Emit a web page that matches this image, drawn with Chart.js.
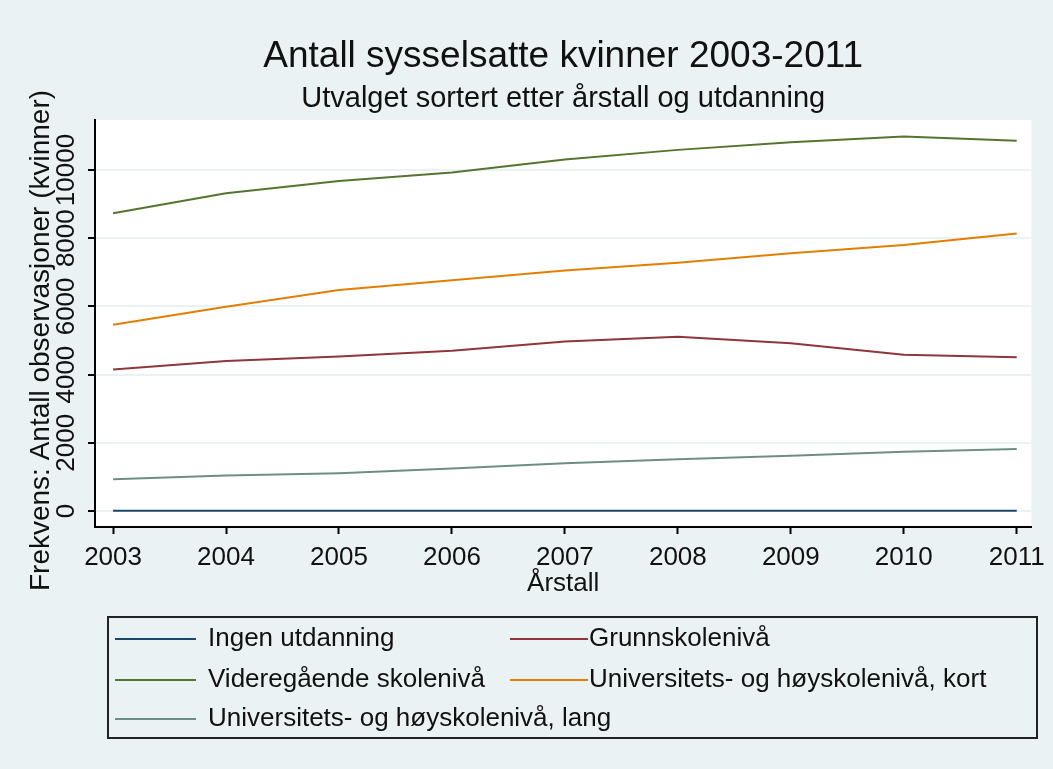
<!DOCTYPE html>
<html>
<head>
<meta charset="utf-8">
<script src="https://cdn.jsdelivr.net/npm/chart.js@4.4.0/dist/chart.umd.min.js"></script>
<style>
  html, body { margin: 0; padding: 0; background: #eaf2f3; }
  canvas { display: block; }
</style>
</head>
<body>
<canvas id="myChart" width="1053" height="769"></canvas>
<script>
// årstall og antall sysselsatte kvinner per utdanningsnivå
const years = [2003, 2004, 2005, 2006, 2007, 2008, 2009, 2010, 2011];
const ingen = [10, 10, 10, 10, 10, 10, 10, 10, 10];
const grunnskole = [4150, 4400, 4530, 4700, 4970, 5110, 4920, 4580, 4510];
const videregaende = [8730, 9320, 9680, 9930, 10310, 10590, 10810, 10980, 10860];
const uniKort = [5460, 5990, 6480, 6770, 7050, 7280, 7560, 7800, 8140];
const uniLang = [930, 1040, 1110, 1250, 1400, 1520, 1620, 1740, 1820];
const yTicks = [0, 2000, 4000, 6000, 8000, 10000];

const labels = [
  'Ingen utdanning',
  'Grunnskolenivå',
  'Videregående skolenivå',
  'Universitets- og høyskolenivå, kort',
  'Universitets- og høyskolenivå, lang'
];
const colors = ['#1a476f', '#90353b', '#55752f', '#e37e00', '#6e8e84'];
const series = [ingen, grunnskole, videregaende, uniKort, uniLang];

const FONT = 'Liberation Sans, Arial, sans-serif';
const TEXT = '#111111';

const ctx = document.getElementById('myChart').getContext('2d');

const data = {
  datasets: series.map((s, i) => ({
    label: labels[i],
    data: years.map((yr, j) => ({ x: yr, y: s[j] })),
    borderColor: colors[i],
    backgroundColor: colors[i],
    borderWidth: 2,
    pointRadius: 0,
    tension: 0,
    fill: false
  }))
};

// bakgrunn, titler, aksetitler og tegnforklaring
const stataLook = {
  id: 'stataLook',
  beforeDraw(chart) {
    const c = chart.ctx;
    const a = chart.chartArea;
    c.save();
    c.fillStyle = '#eaf2f3';
    c.fillRect(0, 0, chart.width, chart.height);
    c.fillStyle = '#ffffff';
    c.fillRect(a.left, a.top, a.right - a.left, a.bottom - a.top);
    c.restore();
  },
  afterDraw(chart) {
    const c = chart.ctx;
    const a = chart.chartArea;
    const yScale = chart.scales.y;
    const cx = (a.left + a.right) / 2;
    c.save();
    c.fillStyle = TEXT;
    c.textAlign = 'center';
    c.textBaseline = 'alphabetic';
    c.font = '37px ' + FONT;
    c.fillText('Antall sysselsatte kvinner 2003-2011', cx, 67);
    c.font = '29px ' + FONT;
    c.fillText('Utvalget sortert etter årstall og utdanning', cx, 107);

    c.font = '26px ' + FONT;
    c.fillText('Årstall', cx, 591);

    c.save();
    c.translate(41, yScale.getPixelForValue(5000));
    c.rotate(-Math.PI / 2);
    c.textBaseline = 'middle';
    c.font = '28px ' + FONT;
    c.fillText('Frekvens: Antall observasjoner (kvinner)', 0, 0);
    c.restore();

    // tegnforklaring
    c.strokeStyle = '#222222';
    c.lineWidth = 2;
    c.strokeRect(108, 617, 929, 121);
    const rows = [639, 680, 719];
    const cols = [{ x0: 115, x1: 196, tx: 208 }, { x0: 510, x1: 588, tx: 589 }];
    c.textAlign = 'left';
    c.textBaseline = 'middle';
    c.font = '26px ' + FONT;
    chart.data.datasets.forEach((ds, i) => {
      const col = cols[i % 2];
      const y = rows[Math.floor(i / 2)];
      c.strokeStyle = ds.borderColor;
      c.lineWidth = 2;
      c.beginPath();
      c.moveTo(col.x0, y);
      c.lineTo(col.x1, y);
      c.stroke();
      c.fillStyle = TEXT;
      c.fillText(ds.label, col.tx, y);
    });
    c.restore();
  }
};

const myChart = new Chart(ctx, {
  type: 'line',
  data: data,
  plugins: [stataLook],
  options: {
    responsive: false,
    animation: false,
    layout: { padding: { top: 120, left: 0, right: 20, bottom: 172 } },
    plugins: {
      legend: { display: false },
      tooltip: { enabled: false }
    },
    scales: {
      x: {
        type: 'linear',
        min: 2002.84,
        max: 2011.13,
        afterBuildTicks: (scale) => { scale.ticks = years.map(v => ({ value: v })); },
        afterFit: (scale) => { scale.height = 70; },
        ticks: {
          font: { family: FONT, size: 26 },
          color: TEXT,
          padding: 8,
          maxRotation: 0,
          callback: (v) => String(v)
        },
        grid: {
          drawOnChartArea: false,
          tickLength: 7,
          tickColor: '#000000',
          tickWidth: 2
        },
        border: { color: '#000000', width: 2 }
      },
      y: {
        type: 'linear',
        min: -469,
        max: 11466,
        afterBuildTicks: (scale) => { scale.ticks = yTicks.map(v => ({ value: v })); },
        afterFit: (scale) => { scale.width = 95; },
        ticks: {
          font: { family: FONT, size: 26 },
          color: TEXT,
          minRotation: 90,
          maxRotation: 90,
          crossAlign: 'center',
          padding: -15,
          callback: (v) => String(v)
        },
        grid: {
          color: '#eaf2f3',
          lineWidth: 2,
          tickLength: 7,
          tickColor: '#000000',
          tickWidth: 2
        },
        border: { color: '#000000', width: 2 }
      }
    }
  }
});
</script>
</body>
</html>
